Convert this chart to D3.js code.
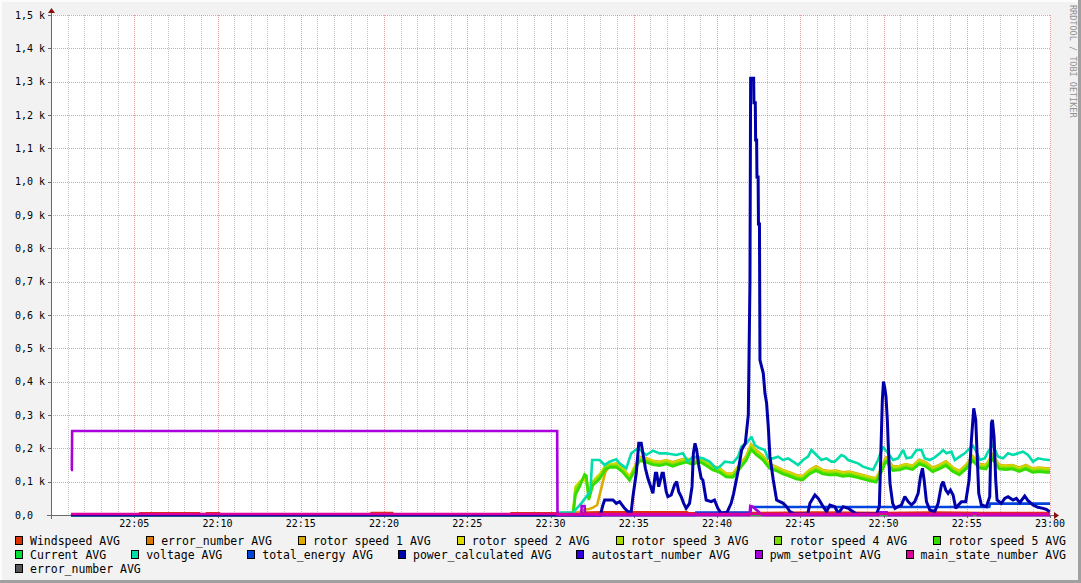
<!DOCTYPE html>
<html><head><meta charset="utf-8">
<script src="https://cdn.jsdelivr.net/npm/d3@7"></script>
<style>body{margin:0;background:#F2F2F2;} svg{display:block}</style>
</head><body><svg id="c" width="1081" height="583"></svg>
<script>
// ---------- axis / legend text ----------
const xTickMinutes = [5,10,15,20,25,30,35,40,45,50,55,60];
const xTickLabels = ["22:05","22:10","22:15","22:20","22:25","22:30","22:35","22:40","22:45","22:50","22:55","23:00"];
const yTickValues = [0,100,200,300,400,500,600,700,800,900,1000,1100,1200,1300,1400,1500];
const yTickLabels = ["0,0","0,1 k","0,2 k","0,3 k","0,4 k","0,5 k","0,6 k","0,7 k","0,8 k","0,9 k","1,0 k","1,1 k","1,2 k","1,3 k","1,4 k","1,5 k"];
const seriesNames = ["Windspeed AVG","error_number AVG","rotor speed 1 AVG","rotor speed 2 AVG","rotor speed 3 AVG","rotor speed 4 AVG","rotor speed 5 AVG","Current AVG","voltage AVG","total_energy AVG","power_calculated AVG","autostart_number AVG","pwm_setpoint AVG","main_state_number AVG","error_number AVG"];
const seriesColors = ["#DD3300","#DD7700","#DDAA00","#DDDD00","#AADD00","#77DD00","#33DD00","#00DD33","#00DDAA","#0044DD","#0000AA","#3300DD","#AA00DD","#DD0099","#555555"];
const legendRows = [[0,1,2,3,4,5,6],[7,8,9,10,11,12,13],[14]];
const drawOrder = [1,14,11,7,0,2,3,4,5,6,8,9,10,12,13];
const watermark = "RRDTOOL / TOBI OETIKER";

// ---------- data (minutes after 22:00, value) ----------
const windspeed = [[1.2,2],[5.3,2],[5.35,5],[8.9,5],[8.95,2],[9.3,2],[9.35,5],[10.1,5],[10.15,2],[19.2,2],[19.25,6],[20.5,6],[20.55,2],[27.6,2],[27.65,5],[30.4,5],[31.0,6],[33.0,8],[38.2,8],[38.3,5],[42,6],[46,7],[50,6],[53,7],[56,6],[60,6]];
const errorNumber = [[1.2,0],[60,0]];
const rotorT = [1.2,31.35,31.5,31.75,32.05,32.15,32.3,32.55,32.8,33.0,33.3,33.6,33.95,34.35,34.75,34.95,35.35,35.75,36.15,36.55,36.95,37.35,37.75,38.15,38.55,38.95,39.35,39.75,40.15,40.55,40.95,41.35,41.75,42.05,42.35,42.75,43.15,43.55,43.95,44.35,44.75,45.15,45.55,45.95,46.35,46.75,47.15,47.55,47.95,48.35,48.75,49.15,49.55,49.85,50.15,50.55,50.95,51.35,51.75,52.15,52.55,52.95,53.35,53.75,54.15,54.55,54.95,55.35,55.75,56.15,56.55,56.95,57.35,57.75,58.15,58.55,58.95,59.35,59.75,60];
const rotor1 = [0,0,5,10,15,17,18,22,30,70,130,150,155,140,115,133,175,170,163,160,165,158,165,170,163,172,160,147,140,125,124,150,176,212,195,178,153,145,135,128,120,117,135,146,135,132,133,128,130,125,120,115,110,138,175,146,147,153,148,166,158,142,150,161,143,132,150,177,154,150,181,151,148,150,142,150,140,142,140,140];
const rotor2 = [0,0,85,100,110,95,70,100,115,125,148,152,153,138,113,133,172,168,161,158,163,156,163,168,161,170,158,145,138,123,123,148,173,208,191,175,150,143,133,126,118,115,133,143,133,130,131,126,128,123,118,113,108,136,171,143,145,151,146,163,155,140,148,158,141,130,148,173,151,148,178,148,146,148,140,148,138,140,138,138];
const rotor3 = [0,0,80,95,115,110,60,100,110,120,145,150,150,135,110,130,170,165,158,155,160,153,160,165,158,167,155,142,135,120,120,145,170,205,188,172,147,140,130,123,115,112,130,140,130,127,128,123,125,120,115,110,105,133,168,140,142,148,143,160,152,137,145,155,138,127,145,170,148,145,175,145,143,145,137,145,135,137,135,135];
const rotor4 = [0,0,70,90,120,115,50,95,105,115,140,146,146,131,107,126,166,161,154,151,156,149,156,161,154,163,151,138,131,117,116,141,166,200,184,168,143,136,126,119,111,108,126,136,126,123,124,119,121,116,111,106,101,129,164,136,138,144,139,156,148,133,141,151,134,123,141,166,144,141,171,141,139,141,133,141,131,133,131,131];
const rotor5 = [0,0,60,85,122,118,45,90,100,112,137,143,143,128,104,123,163,158,151,148,153,146,153,158,151,160,148,135,128,114,113,138,163,196,181,165,140,133,123,116,108,105,123,133,123,120,121,116,118,113,108,103,98,126,161,133,135,141,136,153,145,130,138,148,131,120,138,163,141,138,168,138,136,138,130,138,128,130,128,128];
const current = [[1.2,0],[31.5,0],[32,1],[60,1]];
const voltage = [[1.2,0],[30.5,0],[30.55,7],[31.35,7],[31.85,35],[32.15,55],[32.4,70],[32.5,165],[32.95,165],[33.25,150],[33.55,160],[33.95,167],[34.15,155],[34.55,140],[34.85,185],[35.25,200],[35.75,180],[36.15,193],[36.55,185],[36.95,185],[37.55,180],[37.95,185],[38.25,160],[38.55,175],[39.15,170],[39.55,160],[39.95,140],[40.17,145],[40.47,160],[40.97,157],[41.27,175],[41.47,205],[41.77,215],[42.07,235],[42.27,210],[42.57,200],[42.87,195],[43.07,170],[43.37,170],[43.67,175],[43.97,165],[44.27,170],[44.57,160],[44.87,150],[45.17,165],[45.47,175],[45.67,195],[45.97,180],[46.27,165],[46.57,170],[46.87,160],[47.07,160],[47.27,170],[47.47,180],[47.67,175],[47.87,165],[48.17,160],[48.47,155],[48.77,145],[49.07,140],[49.37,135],[49.67,165],[49.97,205],[50.27,185],[50.57,165],[50.87,170],[51.18,195],[51.38,170],[51.68,173],[51.98,195],[52.28,195],[52.48,170],[52.78,165],[53.08,173],[53.38,185],[53.58,195],[53.78,185],[54.08,190],[54.28,165],[54.58,175],[54.88,185],[55.08,195],[55.38,207],[55.58,190],[55.78,165],[56.08,170],[56.28,190],[56.58,210],[56.88,175],[57.18,170],[57.48,185],[57.78,180],[58.08,185],[58.38,190],[58.68,180],[58.98,160],[59.28,170],[59.58,167],[59.88,165],[60,165]];
const totalEnergy = [[1.2,0],[38.7,0],[38.75,7],[42.0,7],[42.05,24],[56.35,24],[56.4,34],[60,34]];
const power = [[1.2,0],[33.0,0],[33.15,30],[33.25,45],[33.75,45],[33.95,35],[34.15,40],[34.45,20],[34.65,10],[34.85,10],[34.95,55],[35.15,125],[35.3,215],[35.45,215],[35.55,185],[35.7,140],[35.85,110],[35.95,95],[36.15,65],[36.3,125],[36.38,125],[36.5,85],[36.7,125],[36.78,125],[36.95,70],[37.05,55],[37.25,60],[37.45,90],[37.58,100],[37.7,70],[37.85,55],[38.0,35],[38.15,20],[38.35,35],[38.5,85],[38.58,185],[38.68,215],[38.78,195],[38.9,150],[39.05,110],[39.15,105],[39.35,45],[39.65,40],[39.85,45],[40.05,20],[40.25,5],[40.6,8],[40.85,35],[41.0,65],[41.28,135],[41.48,195],[41.7,215],[41.88,300],[41.98,700],[42.02,1310],[42.2,1310],[42.22,1237],[42.3,1237],[42.32,1125],[42.38,1125],[42.4,1014],[42.47,1014],[42.49,873],[42.55,873],[42.58,465],[42.78,425],[42.88,365],[42.98,335],[43.08,265],[43.18,175],[43.38,105],[43.58,45],[43.98,35],[44.18,25],[44.38,10],[44.68,3],[45.45,3],[45.58,35],[45.88,60],[46.08,50],[46.38,25],[46.58,10],[46.78,30],[47.08,25],[47.28,5],[47.58,25],[47.88,20],[48.18,10],[48.38,3],[49.58,3],[49.75,25],[49.85,200],[49.93,345],[50.0,400],[50.08,380],[50.15,355],[50.23,285],[50.29,205],[50.39,95],[50.55,35],[50.69,20],[50.88,25],[51.08,30],[51.28,55],[51.48,40],[51.68,30],[51.88,40],[52.08,65],[52.22,115],[52.34,140],[52.44,105],[52.58,40],[52.78,15],[53.08,10],[53.28,35],[53.48,90],[53.58,100],[53.74,75],[53.88,65],[54.02,75],[54.18,60],[54.34,20],[54.5,30],[54.68,40],[54.94,40],[55.14,105],[55.28,225],[55.42,320],[55.54,285],[55.62,185],[55.72,65],[55.88,30],[56.18,25],[56.38,55],[56.48,275],[56.54,285],[56.64,235],[56.74,105],[56.82,45],[57.08,35],[57.28,50],[57.48,55],[57.78,45],[57.98,50],[58.18,37],[58.48,57],[58.68,43],[58.98,30],[59.28,23],[59.58,20],[59.78,17],[59.98,10]];
const autostart = [[1.2,0],[60,0]];
const pwmSetpoint = [[1.2,135],[1.25,135],[1.27,252],[30.4,252],[30.42,0],[31.85,0],[31.87,27],[32.05,27],[32.07,0],[41.95,0],[42.0,27],[42.15,25],[42.3,18],[42.5,10],[42.6,3],[42.8,0],[49.7,0],[49.8,8],[50.2,8],[50.3,0],[55.3,0],[55.35,5],[55.6,5],[55.65,0],[60,0]];
const mainState = [[1.2,3],[60,3]];
const errorNumber2 = [[1.2,0],[60,0]];

const zipRotor = vals => rotorT.map((t,i)=>[t, vals[i]]).filter(d=>d[1]!==undefined);
const seriesData = [windspeed, errorNumber, zipRotor(rotor1), zipRotor(rotor2), zipRotor(rotor3), zipRotor(rotor4), zipRotor(rotor5), current, voltage, totalEnergy, power, autostart, pwmSetpoint, mainState, errorNumber2];

// ---------- drawing ----------
const W = 1081, H = 583;
const svg = d3.select("#c");
const x = d3.scaleLinear().domain([0,60]).range([51,1050]);
const y = d3.scaleLinear().domain([0,1500]).range([515,15]);
const FONT = "'DejaVu Sans Mono', monospace";

svg.append("rect").attr("width",W).attr("height",H).attr("fill","#F2F2F2");
svg.append("rect").attr("x",51).attr("y",15).attr("width",1000).attr("height",500).attr("fill","#FFFFFF");

// frame
svg.append("rect").attr("x",0).attr("y",0).attr("width",W).attr("height",2).attr("fill","#FCFCFC");
svg.append("rect").attr("x",0).attr("y",0).attr("width",2).attr("height",H).attr("fill","#FCFCFC");
svg.append("rect").attr("x",0).attr("y",H-3).attr("width",W).attr("height",3).attr("fill","#A0A0A0");
svg.append("rect").attr("x",W-3).attr("y",0).attr("width",3).attr("height",H).attr("fill","#A0A0A0");

// grid
const grid = svg.append("g").attr("shape-rendering","crispEdges");
const minorMin = d3.range(1,60).filter(m=>m%5!==0);
grid.selectAll(".vmin").data(minorMin).enter().append("line")
  .attr("x1",d=>Math.round(x(d))+0.5).attr("x2",d=>Math.round(x(d))+0.5)
  .attr("y1",15).attr("y2",515)
  .attr("stroke","rgba(128,128,128,0.45)").attr("stroke-dasharray","1,1");
grid.selectAll(".vmaj").data(xTickMinutes).enter().append("line")
  .attr("x1",d=>Math.round(x(d))+0.5).attr("x2",d=>Math.round(x(d))+0.5)
  .attr("y1",15).attr("y2",515)
  .attr("stroke","rgba(200,40,40,0.45)").attr("stroke-dasharray","1,1");
grid.selectAll(".hmaj").data(yTickValues.slice(1)).enter().append("line")
  .attr("x1",51).attr("x2",1050)
  .attr("y1",d=>Math.round(y(d))+0.5).attr("y2",d=>Math.round(y(d))+0.5)
  .attr("stroke","rgba(200,40,40,0.45)").attr("stroke-dasharray","1,1");

// axes (under the series)
const axisColor = "#6A6A6A";
const ax = svg.append("g").attr("shape-rendering","crispEdges");
ax.append("line").attr("x1",47).attr("x2",1054).attr("y1",515.5).attr("y2",515.5).attr("stroke",axisColor);
ax.append("line").attr("x1",51.5).attr("x2",51.5).attr("y1",519).attr("y2",11).attr("stroke",axisColor);
ax.selectAll(".yt").data(yTickValues).enter().append("line")
  .attr("x1",48).attr("x2",51).attr("y1",d=>Math.round(y(d))+0.5).attr("y2",d=>Math.round(y(d))+0.5).attr("stroke",axisColor);
ax.selectAll(".xt").data(xTickMinutes).enter().append("line")
  .attr("x1",d=>Math.round(x(d))+0.5).attr("x2",d=>Math.round(x(d))+0.5).attr("y1",515).attr("y2",518).attr("stroke",axisColor);

// series
const line = d3.line().x(d=>x(d[0])).y(d=>y(d[1]));
drawOrder.forEach(i=>{
  svg.append("path").datum(seriesData[i]).attr("d",line)
    .attr("fill","none").attr("stroke",seriesColors[i])
    .attr("stroke-width", i===10 ? 3 : 2.6)
    .attr("stroke-linejoin","miter").attr("stroke-miterlimit",2);
});

// arrows
svg.append("path").attr("d",`M1054,512 L1059,515.5 L1054,519 Z`).attr("fill","#8B1010");
svg.append("path").attr("d",`M48,13 L51.5,8 L55,13 Z`).attr("fill","#8B1010");

// y labels
svg.selectAll(".yl").data(yTickValues).enter().append("text")
  .attr("x",15).attr("y",d=>y(d)+3.6)
  .attr("font-family",FONT).attr("font-size","10px").attr("fill","#000")
  .text((d,i)=>yTickLabels[i]);
// x labels
svg.selectAll(".xl").data(xTickMinutes).enter().append("text")
  .attr("x",d=>x(d)).attr("y",527)
  .attr("text-anchor","middle")
  .attr("font-family",FONT).attr("font-size","10px").attr("fill","#000")
  .text((d,i)=>xTickLabels[i]);

// watermark
svg.append("text").attr("transform","translate(1069.5,5) rotate(90)")
  .attr("font-family",FONT).attr("font-size","8.5px").attr("fill","#909090")
  .text(watermark);

// legend
const LFS = 11.5;
const rowY = [541, 555, 569];
legendRows.forEach((row,r)=>{
  const g = svg.append("g");
  const items = row.map(i=>{
    const t = g.append("text").attr("font-family",FONT).attr("font-size",LFS+"px")
      .attr("fill","#000").attr("y",rowY[r]+4).text(seriesNames[i]);
    const w = t.node().getComputedTextLength();
    return {i, t, w: 15 + w};
  });
  let gap = 0;
  if (items.length>1) {
    const total = d3.sum(items, d=>d.w);
    gap = (1066 - 15 - total) / (items.length-1);
  }
  let cx = 15;
  items.forEach(it=>{
    g.append("rect").attr("x",cx+0.5).attr("y",rowY[r]-4.5).attr("width",7).attr("height",8)
      .attr("fill",seriesColors[it.i]).attr("stroke","#000").attr("stroke-width",1)
      .attr("shape-rendering","crispEdges");
    it.t.attr("x",cx+15);
    cx += it.w + gap;
  });
});
</script>
</body></html>
